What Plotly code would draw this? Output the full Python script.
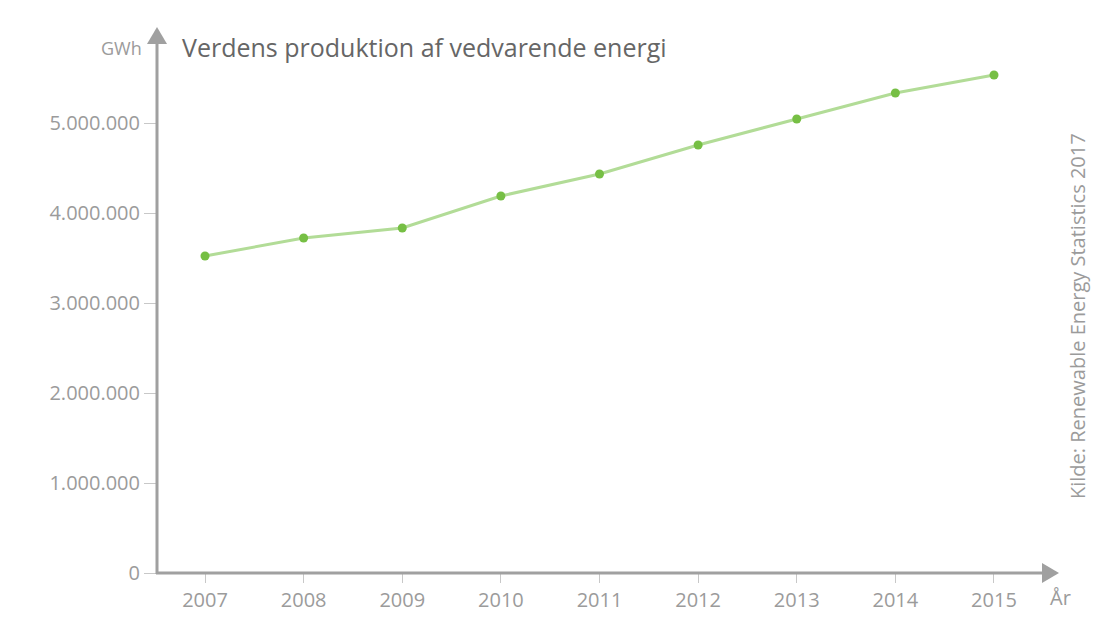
import plotly.graph_objects as go

years = [2007, 2008, 2009, 2010, 2011, 2012, 2013, 2014, 2015]
gwh = [3522000, 3722000, 3833000, 4189000, 4433000, 4756000, 5044000, 5333000, 5533000]
y_ticks = [0, 1000000, 2000000, 3000000, 4000000, 5000000]

W, H = 1120, 630
L, R, T, B = 157, 1045, 35, 573

def px(x):
    return (x - L) / (R - L)

def py(y):
    return (B - y) / (B - T)

FONT = "Open Sans"
GREY = "#9b9b9b"

fig = go.Figure()
fig.add_trace(go.Scatter(
    x=years, y=gwh, mode="lines+markers",
    line=dict(color="#b2dc97", width=3),
    marker=dict(color="#76bf44", size=9),
    hoverinfo="x+y", showlegend=False,
))

fig.update_layout(
    width=W, height=H,
    margin=dict(l=L, r=W - R, t=T, b=H - B, pad=0),
    paper_bgcolor="white", plot_bgcolor="white",
    separators=",.",
    font=dict(family=FONT, color=GREY, size=20),
    xaxis=dict(
        range=[2007 - 48 / 98.6, 2015 + 51 / 98.6],
        tickvals=years, ticks="outside", ticklen=9, tickcolor="#c8c8c8", tickwidth=1,
        showgrid=False, zeroline=False, showline=False,
        tickfont=dict(family=FONT, size=20, color=GREY),
        fixedrange=True,
    ),
    yaxis=dict(
        range=[0, (B - T) / 90 * 1000000],
        tickvals=y_ticks, tickformat=",d", ticks="outside", ticklen=12, tickcolor="#c8c8c8", tickwidth=1,
        showgrid=False, zeroline=False, showline=False,
        tickfont=dict(family=FONT, size=20, color=GREY),
        fixedrange=True,
    ),
)

axis_col = "#a0a0a0"
fig.add_shape(type="line", xref="paper", yref="paper",
              x0=px(157), x1=px(157), y0=py(574), y1=py(42),
              line=dict(color=axis_col, width=3), layer="above")
fig.add_shape(type="line", xref="paper", yref="paper",
              x0=px(156), x1=px(1044), y0=py(573), y1=py(573),
              line=dict(color=axis_col, width=3), layer="above")
fig.add_shape(type="path", xref="paper", yref="paper",
              path=f"M {px(147)} {py(44)} L {px(167)} {py(44)} L {px(157)} {py(27)} Z",
              fillcolor=axis_col, line=dict(width=0), layer="above")
fig.add_shape(type="path", xref="paper", yref="paper",
              path=f"M {px(1042)} {py(563)} L {px(1042)} {py(583)} L {px(1059)} {py(573)} Z",
              fillcolor=axis_col, line=dict(width=0), layer="above")

fig.add_annotation(text="Verdens produktion af vedvarende energi", xref="paper", yref="paper",
                   x=px(180), y=py(47), xanchor="left", yanchor="middle", showarrow=False,
                   font=dict(family=FONT, size=25, color="#666666"))
fig.add_annotation(text="GWh", xref="paper", yref="paper",
                   x=px(144), y=py(48), xanchor="right", yanchor="middle", showarrow=False,
                   font=dict(family=FONT, size=18, color=GREY))
fig.add_annotation(text="År", xref="paper", yref="paper",
                   x=px(1048), y=py(597), xanchor="left", yanchor="middle", showarrow=False,
                   font=dict(family=FONT, size=20, color=GREY))
fig.add_annotation(text="Kilde: Renewable Energy Statistics 2017", xref="paper", yref="paper",
                   x=px(1077), y=py(316), xanchor="center", yanchor="middle", showarrow=False,
                   textangle=-90, font=dict(family=FONT, size=20, color=GREY))

fig.write_html("out.html", config={"displayModeBar": False},
               post_script="document.body.style.margin='0';document.body.style.overflow='hidden';")
